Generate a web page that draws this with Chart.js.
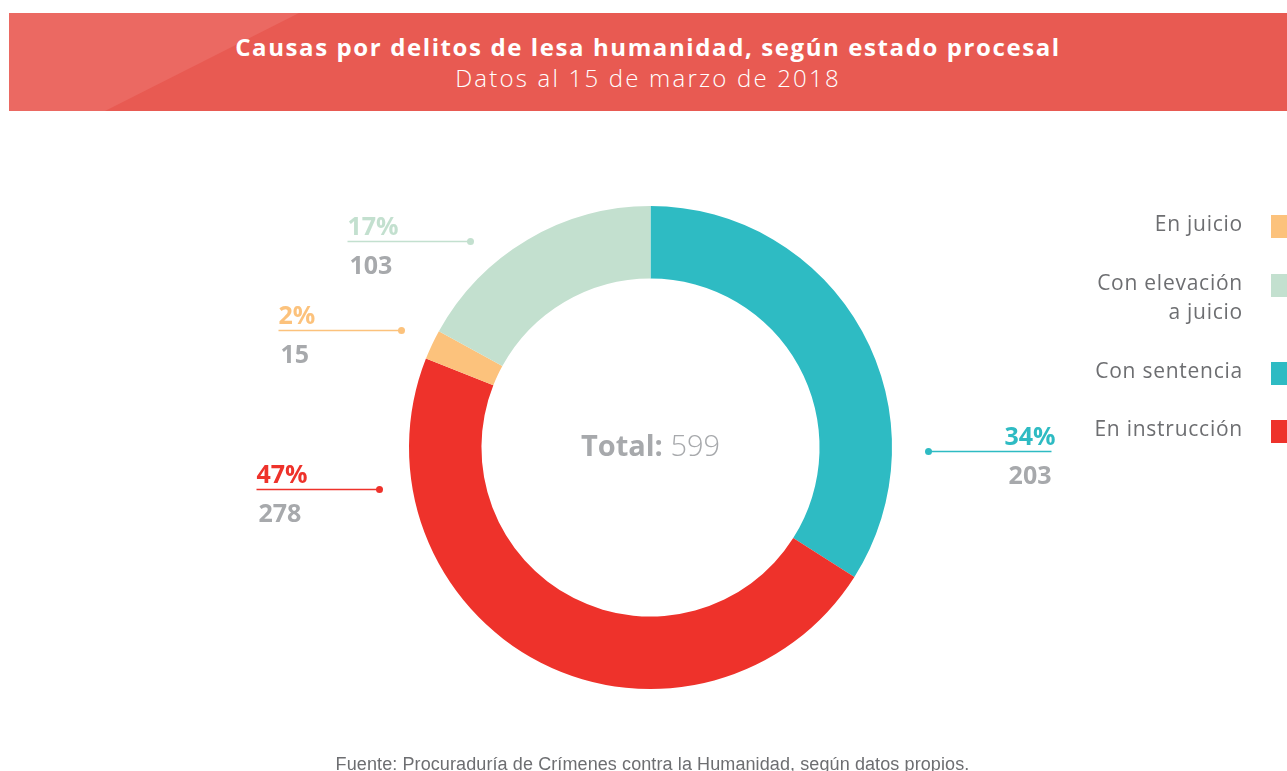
<!DOCTYPE html>
<html>
<head>
<meta charset="utf-8">
<script src="https://cdn.jsdelivr.net/npm/chart.js@4/dist/chart.umd.min.js"></script>
<style>
  html, body { margin: 0; padding: 0; background: #fff; }
  body { width: 1287px; height: 771px; overflow: hidden; position: relative; font-family: "Open Sans", sans-serif; }
  #header {
    position: absolute; left: 9px; top: 13px; width: 1278px; height: 98px;
    background: #E85A52; overflow: hidden;
  }
  #header::before {
    content: ""; position: absolute; left: 0; top: 0; width: 100%; height: 100%;
    background: #EB6962;
    clip-path: polygon(0 0, 290px 0, 96px 100%, 0 100%);
  }
  #header .t1, #header .t2 {
    position: absolute; left: 0; width: 100%; text-align: center; color: #fff; white-space: nowrap;
  }
  #header .t1 { top: 17px; font-size: 24px; font-weight: 700; letter-spacing: 1.6px; }
  #header .t2 { top: 48px; font-size: 24px; font-weight: 300; letter-spacing: 2.2px; }
  #wrap { position: absolute; left: 0; top: 0; width: 1287px; height: 771px; }
  .leg { position: absolute; text-align: right; color: #6D6E71; font-size: 21px; line-height: 29px; letter-spacing: 0.75px; white-space: nowrap; }
  .box { position: absolute; left: 1271px; width: 23px; height: 23px; }
  #footer {
    position: absolute; left: 9px; width: 1287px; top: 754px; text-align: center; white-space: nowrap;
    font-family: "Liberation Sans Narrow", "Liberation Sans", sans-serif; font-size: 18px; letter-spacing: 0.1px; color: #6D6E71;
  }
</style>
</head>
<body>
<div id="header">
  <div class="t1">Causas por delitos de lesa humanidad, según estado procesal</div>
  <div class="t2">Datos al 15 de marzo de 2018</div>
</div>
<div id="wrap"><canvas id="chart" width="1287" height="771"></canvas></div>
<div id="legendArea"></div>
<div id="footer">Fuente: Procuraduría de Crímenes contra la Humanidad, según datos propios.</div>
<script>
// datos (orden de dibujo, en sentido horario desde arriba)
const categories = ["Con sentencia", "En instrucción", "En juicio", "Con elevación a juicio"];
const counts = [203, 278, 15, 103];
const percents = [34, 47, 2, 17];
const colors = ["#2EBBC3", "#EE322B", "#FCC27C", "#C3E0CF"];
const legendOrder = ["En juicio", "Con elevación a juicio", "Con sentencia", "En instrucción"];
const legendLines = [["En juicio"], ["Con elevación", "a juicio"], ["Con sentencia"], ["En instrucción"]];
const totalLabel = "Total:";

// posicion de las etiquetas (punto respecto al centro, lado del texto)
const callouts = [
  { dx: 278, dy: 4, side: "right" },
  { dx: -271, dy: 42, side: "left" },
  { dx: -249, dy: -117, side: "left" },
  { dx: -180, dy: -206, side: "left" }
];

const GRAY = "#A7A9AC";
const FONT = "'Open Sans', sans-serif";

// leyenda en html
const legendArea = document.getElementById("legendArea");
const legendTops = [209, 268, 356, 414];
legendOrder.forEach((name, i) => {
  const idx = categories.indexOf(name);
  const t = document.createElement("div");
  t.className = "leg";
  t.style.top = legendTops[i] + "px";
  t.style.left = "0px";
  t.style.width = "1243px";
  t.innerHTML = legendLines[i].join("<br>");
  legendArea.appendChild(t);
  const b = document.createElement("div");
  b.className = "box";
  b.style.top = (legendTops[i] + 6) + "px";
  b.style.background = colors[idx];
  legendArea.appendChild(b);
});

const labelsPlugin = {
  id: "labelsPlugin",
  afterDraw(chart) {
    const ctx = chart.ctx;
    const arc = chart.getDatasetMeta(0).data[0];
    const cx = arc.x, cy = arc.y;
    ctx.save();
    // total en el centro
    const total = counts.reduce((a, b) => a + b, 0);
    ctx.textBaseline = "middle";
    ctx.font = "700 29px " + FONT;
    const w1 = ctx.measureText(totalLabel + " ").width;
    ctx.font = "300 29px " + FONT;
    const w2 = ctx.measureText(String(total)).width;
    let x0 = cx - (w1 + w2) / 2;
    ctx.fillStyle = GRAY;
    ctx.textAlign = "left";
    ctx.font = "700 29px " + FONT;
    ctx.fillText(totalLabel + " ", x0, cy);
    ctx.font = "300 29px " + FONT;
    ctx.fillText(String(total), x0 + w1, cy);

    // etiquetas con linea
    callouts.forEach((c, i) => {
      const px = cx + c.dx, py = cy + c.dy;
      const len = 123;
      const ex = c.side === "left" ? px - len : px + len;
      ctx.strokeStyle = colors[i];
      ctx.lineWidth = 1.5;
      ctx.beginPath();
      ctx.moveTo(px, py);
      ctx.lineTo(ex, py);
      ctx.stroke();
      ctx.fillStyle = colors[i];
      ctx.beginPath();
      ctx.arc(px, py, 3.5, 0, Math.PI * 2);
      ctx.fill();
      ctx.textAlign = c.side === "left" ? "left" : "right";
      const tx = c.side === "left" ? ex : ex + 4;
      ctx.textBaseline = "alphabetic";
      ctx.font = "700 25px " + FONT;
      ctx.fillStyle = colors[i];
      ctx.fillText(percents[i] + "%", tx, py - 7);
      ctx.fillStyle = GRAY;
      ctx.fillText(String(counts[i]), c.side === "left" ? tx + 2 : tx - 4, py + 32);
    });
    ctx.restore();
  }
};

new Chart(document.getElementById("chart"), {
  type: "doughnut",
  data: {
    labels: categories,
    datasets: [{
      data: percents,
      backgroundColor: colors,
      borderWidth: 0,
      hoverOffset: 0
    }]
  },
  options: {
    responsive: false,
    animation: false,
    cutout: "70%",
    layout: { padding: { left: 409, right: 395, top: 206, bottom: 82 } },
    plugins: {
      legend: { display: false },
      tooltip: { enabled: false }
    }
  },
  plugins: [labelsPlugin]
});
</script>
</body>
</html>
